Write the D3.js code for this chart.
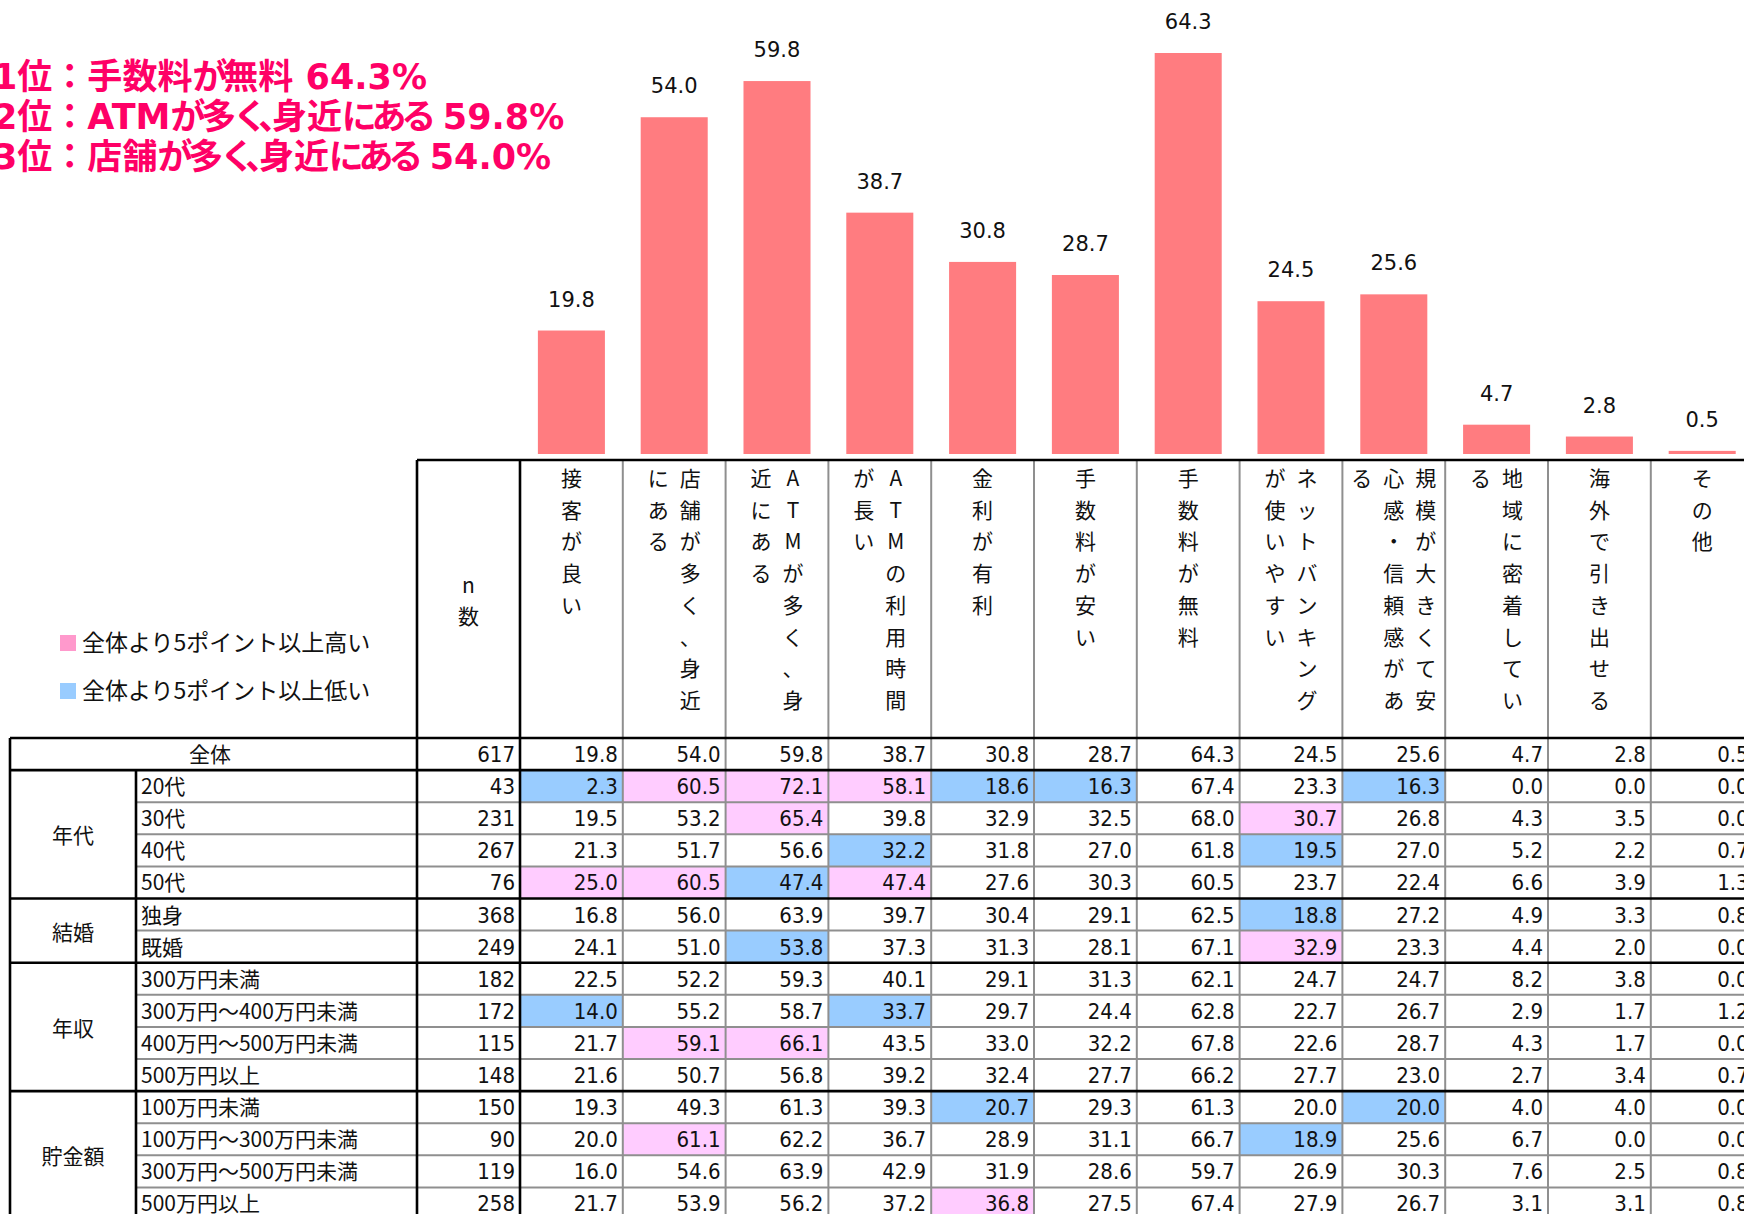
<!DOCTYPE html>
<html>
<head>
<meta charset="utf-8">
<script src="https://cdn.jsdelivr.net/npm/d3@7"></script>
<style>
  body { margin: 0; background: #fff; overflow: hidden; }
  svg { display: block; }
  .palt { font-feature-settings: "palt" 1; }
  .kana { letter-spacing: -4px; }
</style>
</head>
<body>
<svg id="chart" width="1744" height="1214"></svg>
<script>
// ---------------- data ----------------
var items = ["接客が良い", "店舗が多く、身近にある", "ATMが多く、身近にある", "ATMの利用時間が長い",
  "金利が有利", "手数料が安い", "手数料が無料", "ネットバンキングが使いやすい",
  "規模が大きくて安心感・信頼感がある", "地域に密着している", "海外で引き出せる", "その他"];
var totalN = 617;
var totalValues = [19.8, 54.0, 59.8, 38.7, 30.8, 28.7, 64.3, 24.5, 25.6, 4.7, 2.8, 0.5];

// ranking lines: [rank, item, value]
var rankPlaces = ["1位", "2位", "3位"];
var rankItems = ["手数料が無料", "ATMが多く、身近にある", "店舗が多く、身近にある"];
var rankValues = ["64.3%", "59.8%", "54.0%"];
var legendLabels = ["全体より5ポイント以上高い", "全体より5ポイント以上低い"];

var groupNames = ["年代", "結婚", "年収", "貯金額"];
var groupSizes = [4, 2, 4, 4];
var rowLabels = ["20代", "30代", "40代", "50代", "独身", "既婚",
  "300万円未満", "300万円～400万円未満", "400万円～500万円未満", "500万円以上",
  "100万円未満", "100万円～300万円未満", "300万円～500万円未満", "500万円以上"];
var rowN = [43, 231, 267, 76, 368, 249, 182, 172, 115, 148, 150, 90, 119, 258];
var rowValues = [
  [2.3, 60.5, 72.1, 58.1, 18.6, 16.3, 67.4, 23.3, 16.3, 0.0, 0.0, 0.0],
  [19.5, 53.2, 65.4, 39.8, 32.9, 32.5, 68.0, 30.7, 26.8, 4.3, 3.5, 0.0],
  [21.3, 51.7, 56.6, 32.2, 31.8, 27.0, 61.8, 19.5, 27.0, 5.2, 2.2, 0.7],
  [25.0, 60.5, 47.4, 47.4, 27.6, 30.3, 60.5, 23.7, 22.4, 6.6, 3.9, 1.3],
  [16.8, 56.0, 63.9, 39.7, 30.4, 29.1, 62.5, 18.8, 27.2, 4.9, 3.3, 0.8],
  [24.1, 51.0, 53.8, 37.3, 31.3, 28.1, 67.1, 32.9, 23.3, 4.4, 2.0, 0.0],
  [22.5, 52.2, 59.3, 40.1, 29.1, 31.3, 62.1, 24.7, 24.7, 8.2, 3.8, 0.0],
  [14.0, 55.2, 58.7, 33.7, 29.7, 24.4, 62.8, 22.7, 26.7, 2.9, 1.7, 1.2],
  [21.7, 59.1, 66.1, 43.5, 33.0, 32.2, 67.8, 22.6, 28.7, 4.3, 1.7, 0.0],
  [21.6, 50.7, 56.8, 39.2, 32.4, 27.7, 66.2, 27.7, 23.0, 2.7, 3.4, 0.7],
  [19.3, 49.3, 61.3, 39.3, 20.7, 29.3, 61.3, 20.0, 20.0, 4.0, 4.0, 0.0],
  [20.0, 61.1, 62.2, 36.7, 28.9, 31.1, 66.7, 18.9, 25.6, 6.7, 0.0, 0.0],
  [16.0, 54.6, 63.9, 42.9, 31.9, 28.6, 59.7, 26.9, 30.3, 7.6, 2.5, 0.8],
  [21.7, 53.9, 56.2, 37.2, 36.8, 27.5, 67.4, 27.9, 26.7, 3.1, 3.1, 0.8]
];

// ---------------- layout ----------------
var tableLeft = 10, groupRight = 136, labelRight = 417, nRight = 520;
var colW = 102.8;
var headerTop = 460, headerBottom = 738, rowH = 32.1;
var barBase = 454;

var barColor = "#ff7c80", highColor = "#ffccff", lowColor = "#99ccff";
var jp = "'Noto Sans CJK JP', sans-serif";
var num = "'DejaVu Sans Condensed', 'DejaVu Sans', sans-serif";

var svg = d3.select("#chart");

var colX = d3.scaleBand().domain(items).range([nRight, nRight + items.length * colW]);
var barX = d3.scaleBand().domain(items).range([nRight, nRight + items.length * colW])
  .paddingInner(0.348).paddingOuter(0.174);
var y = d3.scaleLinear().domain([0, 64.3]).range([barBase, 53]);

// ---------------- ranking text ----------------
var ranks = svg.append("g")
  .style("font-family", "'DejaVu Sans', 'Noto Sans CJK JP', sans-serif")
  .style("font-weight", "bold")
  .style("font-size", "35px")
  .style("fill", "#ff0066");
rankPlaces.forEach(function(p, i) {
  var t = ranks.append("text").attr("x", -7).attr("y", 89 + i * 40);
  t.append("tspan").text(p + "：");
  var rest = t.append("tspan").attr("class", "palt");
  // kana are set tighter (proportional font in the original)
  Array.from(rankItems[i]).forEach(function(ch) {
    rest.append("tspan").attr("class", /[\u3040-\u309f、]/.test(ch) ? "kana" : null).text(ch);
  });
  rest.append("tspan").text(" " + rankValues[i]);
});

// ---------------- bars ----------------
var bars = svg.append("g");
bars.selectAll("rect").data(totalValues).join("rect")
  .attr("x", function(d, i) { return barX(items[i]); })
  .attr("width", barX.bandwidth())
  .attr("y", function(d) { return y(d); })
  .attr("height", function(d) { return barBase - y(d); })
  .attr("fill", barColor);

bars.selectAll("text").data(totalValues).join("text")
  .attr("x", function(d, i) { return barX(items[i]) + barX.bandwidth() / 2; })
  .attr("y", function(d) { return y(d) - 24; })
  .attr("text-anchor", "middle")
  .style("font-family", "'DejaVu Sans', sans-serif")
  .style("font-size", "21px")
  .style("fill", "#111")
  .text(function(d) { return d.toFixed(1); });

// ---------------- legend ----------------
var legend = svg.append("g");
["#ff99cc", "#99ccff"].forEach(function(c, i) {
  legend.append("rect").attr("x", 60).attr("y", 635 + i * 48).attr("width", 16).attr("height", 16).attr("fill", c);
  legend.append("text").attr("x", 82).attr("y", 651 + i * 48)
    .style("font-family", jp).style("font-size", "23px").style("fill", "#111")
    .text(legendLabels[i]);
});

// ---------------- table cell fills ----------------
var totalRowTop = headerBottom;
function rowTop(r) { return headerBottom + (r + 1) * rowH; }

var fills = svg.append("g");
rowValues.forEach(function(vals, r) {
  vals.forEach(function(v, c) {
    // 5 points above / below the total
    var diff = Math.round((v - totalValues[c]) * 10);
    var col = diff >= 50 ? highColor : (diff <= -50 ? lowColor : null);
    if (col) {
      fills.append("rect")
        .attr("x", colX(items[c])).attr("y", rowTop(r))
        .attr("width", colX.bandwidth()).attr("height", rowH)
        .attr("fill", col);
    }
  });
});

// ---------------- header text ----------------
var head = svg.append("g").style("font-family", jp).style("font-size", "21px").style("fill", "#111");
head.append("text").attr("x", (labelRight + nRight) / 2).attr("y", 584)
  .attr("text-anchor", "middle").attr("dominant-baseline", "central").text("n");
head.append("text").attr("x", (labelRight + nRight) / 2).attr("y", 615)
  .attr("text-anchor", "middle").attr("dominant-baseline", "central").text("数");

// vertical writing, 8 chars per line, lines right to left
items.forEach(function(label, c) {
  var chars = Array.from(label);
  var lines = [];
  for (var i = 0; i < chars.length; i += 8) lines.push(chars.slice(i, i + 8));
  var cx = colX(label) + colX.bandwidth() / 2;
  lines.forEach(function(line, j) {
    var lx = cx + ((lines.length - 1) / 2 - j) * 32;
    line.forEach(function(ch, k) {
      head.append("text")
        .attr("x", lx).attr("y", 477 + k * 31.7)
        .attr("text-anchor", "middle").attr("dominant-baseline", "central")
        .text(ch);
    });
  });
});

// ---------------- table body text ----------------
var body = svg.append("g").style("fill", "#111");
body.append("text").attr("x", 210).attr("y", totalRowTop + 24)
  .attr("text-anchor", "middle").style("font-family", jp).style("font-size", "21px").text("全体");
body.append("text").attr("x", nRight - 5).attr("y", totalRowTop + 24)
  .attr("text-anchor", "end").style("font-family", num).style("font-size", "22px").text(totalN);
totalValues.forEach(function(v, c) {
  body.append("text").attr("x", colX(items[c]) + colX.bandwidth() - 5).attr("y", totalRowTop + 24)
    .attr("text-anchor", "end").style("font-family", num).style("font-size", "22px").text(v.toFixed(1));
});

rowLabels.forEach(function(lab, r) {
  var ty = rowTop(r) + 24;
  body.append("text").attr("x", groupRight + 5).attr("y", ty)
    .style("font-family", jp).style("font-size", "21px").text(lab);
  body.append("text").attr("x", nRight - 5).attr("y", ty)
    .attr("text-anchor", "end").style("font-family", num).style("font-size", "22px").text(rowN[r]);
  rowValues[r].forEach(function(v, c) {
    body.append("text").attr("x", colX(items[c]) + colX.bandwidth() - 5).attr("y", ty)
      .attr("text-anchor", "end").style("font-family", num).style("font-size", "22px").text(v.toFixed(1));
  });
});

var start = 0;
groupNames.forEach(function(g, gi) {
  var top = rowTop(start), h = groupSizes[gi] * rowH;
  body.append("text").attr("x", (tableLeft + groupRight) / 2).attr("y", top + h / 2)
    .attr("text-anchor", "middle").attr("dominant-baseline", "central")
    .style("font-family", jp).style("font-size", "21px").text(g);
  start += groupSizes[gi];
});

// ---------------- grid lines ----------------
var grid = svg.append("g");
var tableRight = nRight + items.length * colW;
var bottom = rowTop(rowLabels.length);

function line(x1, y1, x2, y2, thick) {
  grid.append("line").attr("x1", x1).attr("y1", y1).attr("x2", x2).attr("y2", y2)
    .attr("stroke", thick ? "#000" : "#8f8f8f")
    .attr("stroke-width", thick ? 2.6 : 2);
}

// thin gray row separators inside groups
start = 0;
groupSizes.forEach(function(s) {
  for (var k = 1; k < s; k++) line(groupRight, rowTop(start + k), tableRight, rowTop(start + k), false);
  start += s;
});
// gray column separators
items.forEach(function(it, c) {
  if (c > 0) line(colX(it), headerTop, colX(it), bottom, false);
});
// thick borders
line(labelRight, headerTop, tableRight, headerTop, true);
line(tableLeft, headerBottom, tableRight, headerBottom, true);
line(tableLeft, rowTop(0), tableRight, rowTop(0), true);
start = 0;
groupSizes.forEach(function(s) {
  start += s;
  line(tableLeft, rowTop(start), tableRight, rowTop(start), true);
});
line(tableLeft, headerBottom, tableLeft, bottom, true);
line(groupRight, rowTop(0), groupRight, bottom, true);
line(labelRight, headerTop, labelRight, bottom, true);
line(nRight, headerTop, nRight, bottom, true);
</script>
</body>
</html>
